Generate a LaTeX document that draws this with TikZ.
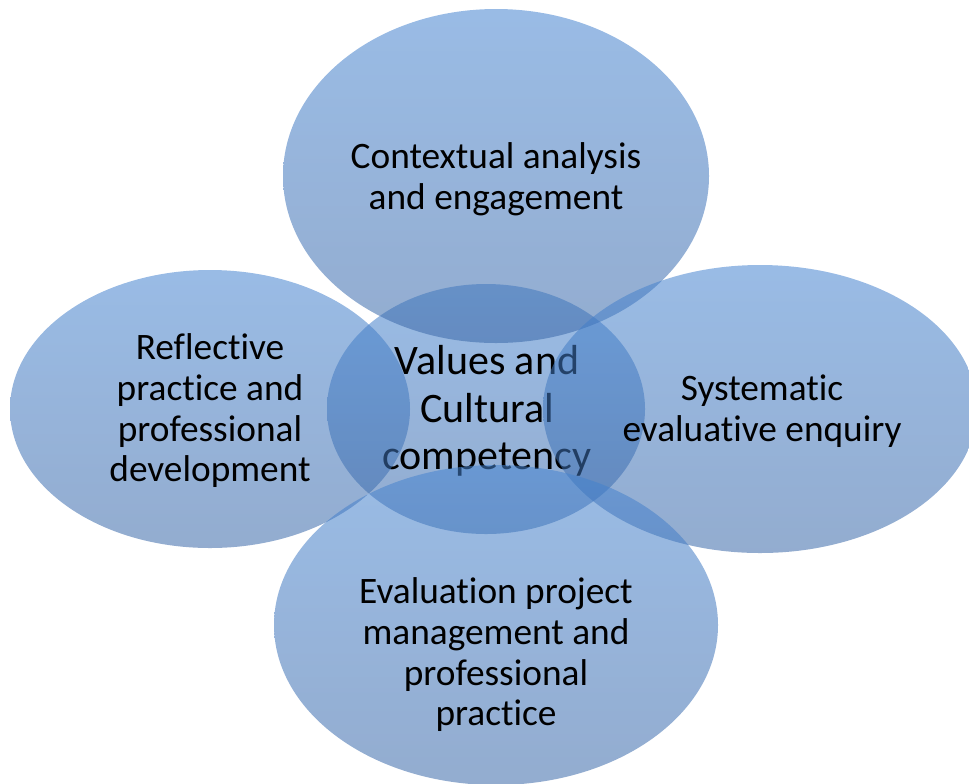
\documentclass[tikz,border=0pt]{standalone}
\usepackage{fontspec}
\setmainfont{Carlito}[Ligatures=CommonOff]
\definecolor{blobtop}{RGB}{70,132,208}
\definecolor{blobbot}{RGB}{58,104,168}
\tikzset{
  blob/.style={top color=blobtop, bottom color=blobbot, fill opacity=0.55, draw=none},
  blobtext/.style={align=center, text=black, font=\fontsize{28}{30.5}\selectfont},
  hubtext/.style={blobtext, font=\fontsize{31.5}{35.5}\selectfont},
}
\begin{document}
\begin{tikzpicture}[x=0.75pt,y=-0.75pt]
\useasboundingbox (0,0) rectangle (969,783);
\clip (0,0) rectangle (969,783);
% centre
\shade[blob] (486,409) ellipse [x radius=159, y radius=125];
\node[hubtext] (values) at (487,411) {Values and\\Cultural\\competency};
% top
\shade[blob] (496,176) ellipse [x radius=213, y radius=167];
\node[blobtext] (context) at (496,179) {Contextual analysis\\and engagement};
% left
\shade[blob] (210,409) ellipse [x radius=200, y radius=139];
\node[blobtext] (reflect) at (210,411) {Reflective\\practice and\\professional\\development};
% right
\shade[blob] (760,409) ellipse [x radius=217, y radius=144];
\node[blobtext] (enquiry) at (762,411) {Systematic\\evaluative enquiry};
% bottom
\shade[blob] (496,625) ellipse [x radius=222, y radius=160];
\node[blobtext] (manage) at (496,655) {Evaluation project\\management and\\professional\\practice};
\end{tikzpicture}
\end{document}
